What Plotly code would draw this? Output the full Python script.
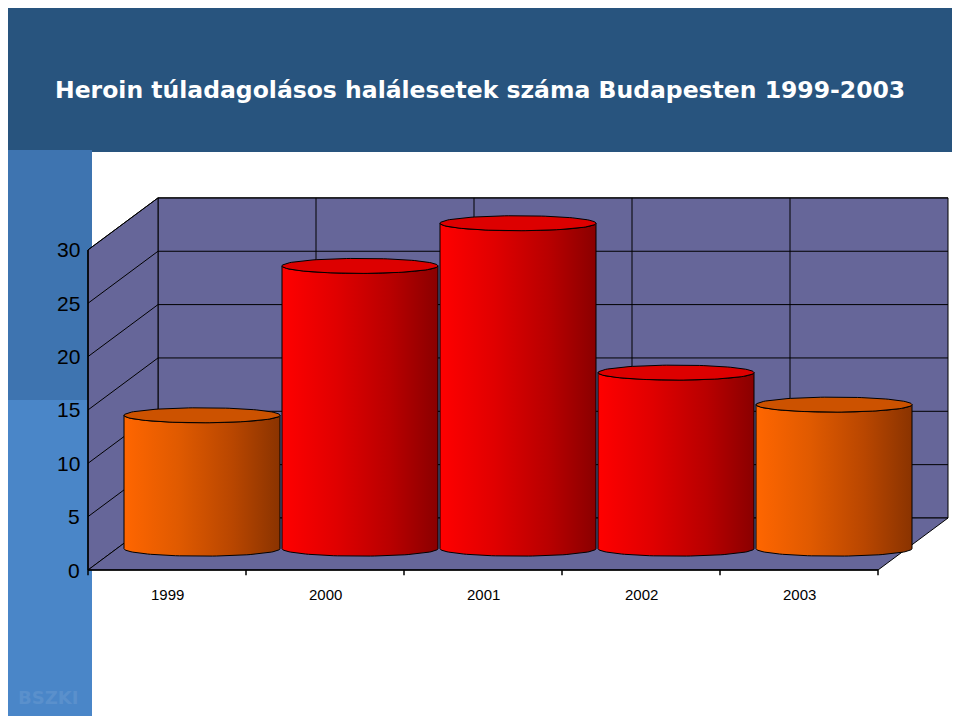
import numpy as np
import plotly.graph_objects as go

# --- Данные ---
years = ["1999", "2000", "2001", "2002", "2003"]
deaths = [12.5, 26.5, 30.5, 16.5, 13.5]
y_ticks = [0, 5, 10, 15, 20, 25, 30]
bar_colors = ["orange", "red", "red", "red", "orange"]

# страница сдвинута на 8px (отступ body), поэтому всё считаем в пикселях картинки
OFF = 8
W, H = 960 - OFF, 716 - OFF
PX = 10.67                  # пикселей на единицу, 0 -> 570px
X0, STEP = 88, 158          # передний край оси и ширина категории
DX, DY = 70, 52 / PX        # глубина задней стенки
BDX, BDY = 35, 2.0          # смещение цилиндров
HALF_W, ELL = 78, 7.5 / PX  # радиус цилиндра и высота эллипса
TOP = 30

palette = {
    "orange": (["#FF6600", "#E05A00", "#B84600", "#8A3300"], "#CC5200"),
    "red": (["#FF0000", "#E00000", "#B80000", "#8A0000"], "#DD0000"),
}

fig = go.Figure()
wall = "#666699"

def poly(xs, ys, fill, line="black", width=1):
    fig.add_trace(go.Scatter(x=xs, y=ys, fill="toself", fillcolor=fill, mode="lines",
                             line=dict(color=line, width=width), hoverinfo="skip", showlegend=False))

def px_x(p):
    return (p - OFF) / W

def px_y(p):
    return 1 - (p - OFF) / H

x_end = X0 + STEP * len(years)
# задняя стенка, боковая стенка, пол
poly([X0 + DX, x_end + DX, x_end + DX, X0 + DX, X0 + DX], [DY, DY, TOP + DY, TOP + DY, DY], wall)
poly([X0, X0 + DX, X0 + DX, X0, X0], [0, DY, TOP + DY, TOP, 0], wall)
poly([X0, x_end, x_end + DX, X0 + DX, X0], [0, 0, DY, DY, 0], wall)

# сетка
for t in y_ticks[1:]:
    fig.add_trace(go.Scatter(x=[X0, X0 + DX, x_end + DX], y=[t, t + DY, t + DY], mode="lines",
                             line=dict(color="black", width=1), hoverinfo="skip", showlegend=False))
for i in range(1, len(years)):
    xv = X0 + DX + i * STEP
    fig.add_trace(go.Scatter(x=[xv, xv], y=[DY, TOP + DY], mode="lines",
                             line=dict(color="black", width=1), hoverinfo="skip", showlegend=False))

# оси
fig.add_trace(go.Scatter(x=[X0, X0, None, X0, x_end], y=[TOP, 0, None, 0, 0], mode="lines",
                         line=dict(color="black", width=1.5), hoverinfo="skip", showlegend=False))
for i in range(len(years) + 1):
    xv = X0 + i * STEP
    fig.add_trace(go.Scatter(x=[xv, xv], y=[0, -0.5], mode="lines",
                             line=dict(color="black", width=1.5), hoverinfo="skip", showlegend=False))

# цилиндры
th = np.linspace(np.pi, 2 * np.pi, 60)
th_full = np.linspace(0, 2 * np.pi, 120)
for i, (yr, v, c) in enumerate(zip(years, deaths, bar_colors)):
    cx = X0 + STEP * i + STEP / 2 + BDX
    grad, top_col = palette[c]
    xb = cx + HALF_W * np.cos(th)
    yb = BDY + ELL * np.sin(th)
    xt = cx + HALF_W * np.cos(th[::-1])
    yt = BDY + v + ELL * np.sin(th[::-1])
    xs = np.concatenate([xb, xt, xb[:1]])
    ys = np.concatenate([yb, yt, yb[:1]])
    fig.add_trace(go.Scatter(x=xs, y=ys, fill="toself", mode="lines",
                             fillgradient=dict(type="horizontal",
                                               colorscale=[[0, grad[0]], [0.35, grad[1]], [0.7, grad[2]], [1, grad[3]]]),
                             line=dict(color="black", width=1), hoverinfo="skip", showlegend=False))
    fig.add_trace(go.Scatter(x=cx + HALF_W * np.cos(th_full), y=BDY + v + ELL * np.sin(th_full),
                             fill="toself", fillcolor=top_col, mode="lines",
                             line=dict(color="black", width=1), hoverinfo="skip", showlegend=False))
    fig.add_annotation(x=X0 + STEP * i + STEP / 2, y=-2.3, text=yr, showarrow=False,
                       font=dict(size=15, color="black", family="Liberation Sans"))

for t in y_ticks:
    fig.add_annotation(x=X0 - 6, y=t, text=str(t), showarrow=False, xanchor="right",
                       font=dict(size=21, color="black", family="Liberation Sans"))

# фон слайда
shapes = [
    dict(type="rect", xref="paper", yref="paper", x0=px_x(5), x1=px_x(955), y0=px_y(152), y1=px_y(0),
         fillcolor="#28547E", line_width=0, layer="below"),
    dict(type="rect", xref="paper", yref="paper", x0=px_x(5), x1=px_x(92), y0=px_y(716), y1=px_y(150),
         fillcolor="#3E74B0", line_width=0, layer="below"),
    dict(type="rect", xref="paper", yref="paper", x0=px_x(5), x1=px_x(92), y0=px_y(716), y1=px_y(400),
         fillcolor="#4A86C8", line_width=0, layer="below"),
]
fig.add_annotation(xref="paper", yref="paper", x=px_x(480), y=px_y(90), xanchor="center", yanchor="middle",
                   text="<b>Heroin túladagolásos halálesetek száma Budapesten 1999-2003</b>",
                   showarrow=False, font=dict(size=23.5, color="white", family="Verdana, DejaVu Sans"))
fig.add_annotation(xref="paper", yref="paper", x=px_x(48), y=px_y(697), xanchor="center", yanchor="middle",
                   text="<b>BSZKI</b>",
                   showarrow=False, font=dict(size=18, color="#5A90CC", family="Verdana, DejaVu Sans"))

fig.update_layout(
    width=W, height=H, margin=dict(l=0, r=0, t=0, b=0),
    paper_bgcolor="white", plot_bgcolor="rgba(0,0,0,0)", shapes=shapes,
    xaxis=dict(range=[OFF, 960], visible=False, fixedrange=True),
    yaxis=dict(range=[(570 - 716) / PX, (570 - OFF) / PX], visible=False, fixedrange=True),
)
fig.write_html("out.html")
